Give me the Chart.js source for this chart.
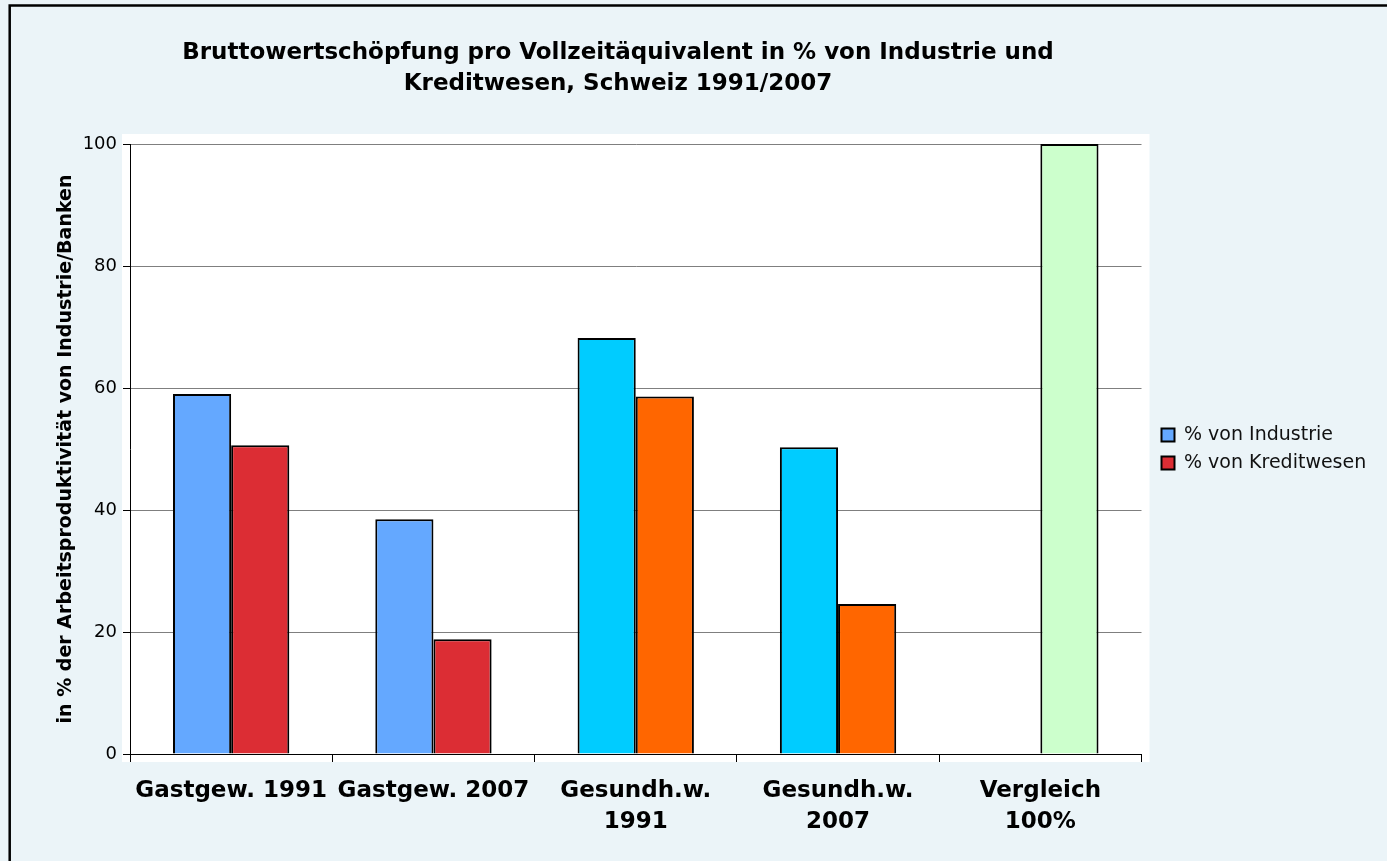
<!DOCTYPE html>
<html>
<head>
<meta charset="utf-8">
<script src="https://cdn.jsdelivr.net/npm/chart.js@4"></script>
<style>
  html, body { margin: 0; padding: 0; background: #EBF4F8; }
</style>
</head>
<body>
<canvas id="grafico" width="1387" height="861"></canvas>
<script>
const kategorien = ["Gastgew. 1991", "Gastgew. 2007", ["Gesundh.w.", "1991"], ["Gesundh.w.", "2007"], ["Vergleich", "100%"]];
const vonIndustrie = [59.0, 38.5, 68.2, 50.3, null];
const vonKreditwesen = [50.6, 18.8, 58.6, 24.6, 100];
const yTicks = [0, 20, 40, 60, 80, 100];
const titel = ["Bruttowertschöpfung pro Vollzeitäquivalent in % von Industrie und", "Kreditwesen, Schweiz 1991/2007"];
const yTitel = "in % der Arbeitsproduktivität von Industrie/Banken";

const farbenIndustrie = ['#64A8FF', '#64A8FF', '#00CCFF', '#00CCFF', '#00CCFF'];
const farbenKredit = ['#DC2D34', '#DC2D34', '#FF6600', '#FF6600', '#CCFFCC'];
const schrift = 'DejaVu Sans';

// Hintergrund, Rahmen, weisse Zeichenfläche und Titel
const hintergrund = {
  id: 'hintergrund',
  beforeDraw(chart) {
    const { ctx, chartArea: a } = chart;
    ctx.save();
    ctx.fillStyle = '#EBF4F8';
    ctx.fillRect(0, 0, chart.width, chart.height);
    ctx.strokeStyle = '#000';
    ctx.lineWidth = 2.5;
    ctx.strokeRect(9.7, 5.5, chart.width, chart.height);
    ctx.fillStyle = '#fff';
    ctx.fillRect(a.left - 8, a.top - 10, a.right - a.left + 16, a.bottom - a.top + 18);
    ctx.fillStyle = '#000';
    ctx.font = 'bold 23px "' + schrift + '"';
    ctx.textAlign = 'center';
    ctx.textBaseline = 'middle';
    titel.forEach((zeile, i) => ctx.fillText(zeile, 618, 53 + i * 31));
    ctx.restore();
  }
};

new Chart(document.getElementById('grafico').getContext('2d'), {
  type: 'bar',
  data: {
    labels: kategorien,
    datasets: [
      {
        label: '% von Industrie',
        data: vonIndustrie,
        backgroundColor: farbenIndustrie,
        borderColor: '#000',
        borderWidth: 2
      },
      {
        label: '% von Kreditwesen',
        data: vonKreditwesen,
        backgroundColor: farbenKredit,
        borderColor: '#000',
        borderWidth: 2
      }
    ]
  },
  options: {
    responsive: false,
    animation: false,
    devicePixelRatio: 1,
    categoryPercentage: 0.575,
    barPercentage: 1,
    layout: { padding: { top: 144, left: 40, right: 12, bottom: 0 } },
    scales: {
      x: {
        grid: { display: true, drawOnChartArea: false, drawTicks: true, tickLength: 8, tickColor: '#000', offset: true },
        border: { color: '#000', width: 1 },
        ticks: {
          color: '#000',
          font: { family: schrift, size: 23, weight: 'bold', lineHeight: 1.37 },
          padding: 13,
          maxRotation: 0,
          autoSkip: false
        },
        afterFit: s => { s.height = 107; }
      },
      y: {
        min: 0,
        max: 100,
        afterBuildTicks: s => { s.ticks = yTicks.map(v => ({ value: v })); },
        afterFit: s => { s.width = 90; },
        grid: {
          color: c => c.tick && c.tick.value === 0 ? '#000' : '#7F7F7F',
          tickColor: '#000',
          tickLength: 7,
          lineWidth: 1
        },
        border: { color: '#000', width: 1 },
        ticks: { color: '#000', font: { family: schrift, size: 18 }, padding: 6 },
        title: {
          display: true,
          text: yTitel,
          color: '#000',
          font: { family: schrift, size: 19, weight: 'bold' },
          padding: { top: 15, bottom: 0 }
        }
      },
      rechts: {
        position: 'right',
        display: true,
        grid: { display: false, drawTicks: false },
        border: { display: false },
        ticks: { display: false },
        afterFit: s => { s.width = 11; }
      }
    },
    plugins: {
      title: { display: false },
      tooltip: { enabled: false },
      legend: {
        position: 'right',
        fullSize: false,
        labels: {
          boxWidth: 13,
          boxHeight: 13,
          padding: 9,
          color: '#111',
          font: { family: schrift, size: 19 }
        }
      }
    }
  },
  plugins: [hintergrund]
});
</script>
</body>
</html>
